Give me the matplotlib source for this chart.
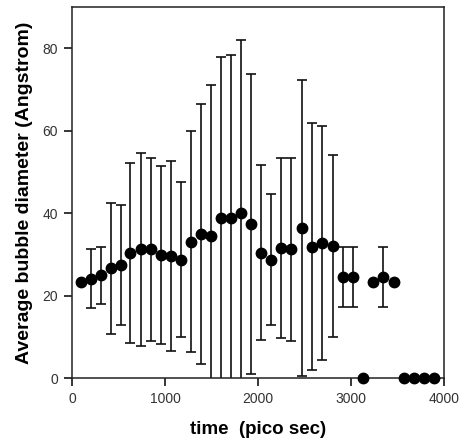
import matplotlib
matplotlib.use("Agg")
import matplotlib.pyplot as plt

# time (ps), mean bubble diameter (Angstrom), symmetric error
time_ps = [93, 200, 307, 418, 525, 629, 739, 846, 957, 1064, 1175, 1279,
           1386, 1496, 1604, 1714, 1821, 1929, 2029, 2142, 2251, 2356, 2473, 2578,
           2687, 2811, 2913, 3018, 3131, 3240, 3349, 3458, 3567, 3676, 3785, 3895]
diameter = [23.2, 24.1, 24.9, 26.6, 27.4, 30.4, 31.2, 31.2, 29.9, 29.7, 28.7, 33.1,
            35.0, 34.4, 38.8, 38.8, 40.0, 37.4, 30.4, 28.7, 31.5, 31.2, 36.4, 31.9,
            32.7, 32.1, 24.5, 24.5, 0.0, 23.2, 24.5, 23.2, 0.0, 0.0, 0.0, 0.0]
error = [0.0, 7.2, 7.0, 16.0, 14.6, 21.9, 23.5, 22.2, 21.6, 23.1, 18.8, 26.8,
         31.6, 36.7, 39.2, 39.6, 42.0, 36.4, 21.2, 15.9, 21.8, 22.2, 36.0, 30.0,
         28.4, 22.1, 7.3, 7.3, 0.0, 0.0, 7.3, 0.0, 0.0, 0.0, 0.0, 0.0]

x_ticks = [0, 1000, 2000, 3000, 4000]
y_ticks = [0, 20, 40, 60, 80]

plt.rcParams['font.family'] = ['Liberation Sans', 'DejaVu Sans']

fig = plt.figure(figsize=(4.6, 4.44), dpi=100)
ax = fig.add_axes([0.1565, 0.1486, 0.8085, 0.835])

# error bars only where there is an error
ex = [t for t, e in zip(time_ps, error) if e > 0]
ey = [d for d, e in zip(diameter, error) if e > 0]
ee = [e for e in error if e > 0]
ax.errorbar(ex, ey, yerr=ee, fmt='none', ecolor='#111111', elinewidth=1.2,
            capsize=3.5, capthick=1.2, zorder=2)
ax.plot(time_ps, diameter, 'o', color='black', markersize=7.5, zorder=3,
        clip_on=False)

ax.set_xlim(0, 4000)
ax.set_ylim(0, 90)
ax.set_xticks(x_ticks)
ax.set_yticks(y_ticks)
ax.tick_params(direction='out', length=6, width=1.1, labelsize=10,
               labelcolor='#333333', pad=4)
for s in ax.spines.values():
    s.set_linewidth(1.1)
    s.set_color('#222222')

ax.set_xlabel('time  (pico sec)', fontsize=13.5, fontweight='bold', labelpad=11)
ax.set_ylabel('Average bubble diameter (Angstrom)', fontsize=14,
              fontweight='bold', labelpad=7)

fig.savefig('out.png', dpi=100)
